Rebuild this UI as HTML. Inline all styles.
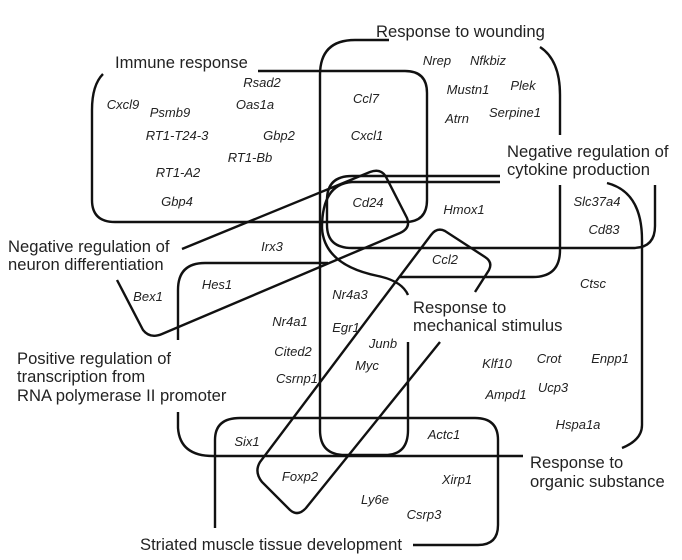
<!DOCTYPE html>
<html><head><meta charset="utf-8"><style>
html,body{margin:0;padding:0;background:#fff;}
svg{display:block;}
.l{font-family:"Liberation Sans",sans-serif;font-size:16.6px;fill:#222;}
.g{font-family:"Liberation Sans",sans-serif;font-size:13px;font-style:italic;fill:#222;text-anchor:middle;}
path,line{fill:none;stroke:#111;stroke-width:2.4;stroke-linecap:butt;}
</style></head><body>
<svg width="682" height="560" viewBox="0 0 682 560" xmlns="http://www.w3.org/2000/svg">
<path d="M103,74 Q92,85 92,110 L92,200 Q92,222 115,222 L405,222 Q427,222 427,200 L427,93 Q427,71 405,71 L258,71"/>
<path d="M389,40 L355,40 Q320,40 320,75 L320,430 Q320,455 345,455 L385,455 Q408,455 408,430 L408,342"/>
<path d="M540,47 Q560,60 560,95 L560,135"/>
<path d="M560,185 L560,250 Q560,277 533,277 L400,277"/>
<path d="M408,295 Q402,281 378,276 Q324,265 322,228 Q322,184 352,182 L500,182"/>
<path d="M607,183 Q642,192 642,240 L642,425 Q642,440 622,448"/>
<path d="M500,176 L352,176 Q327,176 327,200 L327,225 Q327,248 352,248 L633,248 Q655,248 655,226 L655,185"/>
<path d="M182,249 L370,172 Q381,168 386,177 L407,218 Q411,228 400,233 L162,334 Q150,339 143,330 L117,280"/>
<path d="M178,340 L178,290 Q178,263 205,263 L328,263"/>
<path d="M178,412 L178,428 Q180,456 213,456 L523,456"/>
<path d="M475,292 L489,270 Q493,262 485,257 L445,231 Q437,227 431,235 L260,462 Q254,472 262,482 L290,510 Q298,517 306,508 L440,342"/>
<path d="M215,528 L215,440 Q215,418 240,418 L475,418 Q498,418 498,440 L498,525 Q498,545 478,545 L413,545"/>

<text class="l" x="376" y="37">Response to wounding</text>
<text class="l" x="115" y="68">Immune response</text>
<text class="l" x="507" y="157">Negative regulation of</text>
<text class="l" x="507" y="175">cytokine production</text>
<text class="l" x="8" y="252">Negative regulation of</text>
<text class="l" x="8" y="270">neuron differentiation</text>
<text class="l" x="413" y="313">Response to</text>
<text class="l" x="413" y="331">mechanical stimulus</text>
<text class="l" x="17" y="364">Positive regulation of</text>
<text class="l" x="17" y="382">transcription from</text>
<text class="l" x="17" y="401">RNA polymerase II promoter</text>
<text class="l" x="530" y="468">Response to</text>
<text class="l" x="530" y="487">organic substance</text>
<text class="l" x="140" y="550">Striated muscle tissue development</text>

<g class="g">
<text x="437" y="65">Nrep</text><text x="488" y="65">Nfkbiz</text>
<text x="262" y="87">Rsad2</text><text x="468" y="94">Mustn1</text><text x="523" y="90">Plek</text>
<text x="123" y="109">Cxcl9</text><text x="170" y="117">Psmb9</text><text x="255" y="109">Oas1a</text>
<text x="366" y="103">Ccl7</text><text x="457" y="123">Atrn</text><text x="515" y="117">Serpine1</text>
<text x="177" y="140">RT1-T24-3</text><text x="279" y="140">Gbp2</text><text x="367" y="140">Cxcl1</text>
<text x="250" y="162">RT1-Bb</text><text x="178" y="177">RT1-A2</text>
<text x="177" y="206">Gbp4</text><text x="368" y="207">Cd24</text><text x="464" y="214">Hmox1</text>
<text x="597" y="206">Slc37a4</text><text x="604" y="234">Cd83</text>
<text x="272" y="251">Irx3</text><text x="445" y="264">Ccl2</text>
<text x="593" y="288">Ctsc</text><text x="217" y="289">Hes1</text><text x="148" y="301">Bex1</text>
<text x="350" y="299">Nr4a3</text><text x="290" y="326">Nr4a1</text><text x="346" y="332">Egr1</text>
<text x="383" y="348">Junb</text><text x="293" y="356">Cited2</text><text x="367" y="370">Myc</text>
<text x="297" y="383">Csrnp1</text>
<text x="497" y="368">Klf10</text><text x="549" y="363">Crot</text><text x="610" y="363">Enpp1</text>
<text x="506" y="399">Ampd1</text><text x="553" y="392">Ucp3</text><text x="578" y="429">Hspa1a</text>
<text x="444" y="439">Actc1</text><text x="247" y="446">Six1</text>
<text x="300" y="481">Foxp2</text><text x="457" y="484">Xirp1</text>
<text x="375" y="504">Ly6e</text><text x="424" y="519">Csrp3</text>
</g>
</svg>
</body></html>
